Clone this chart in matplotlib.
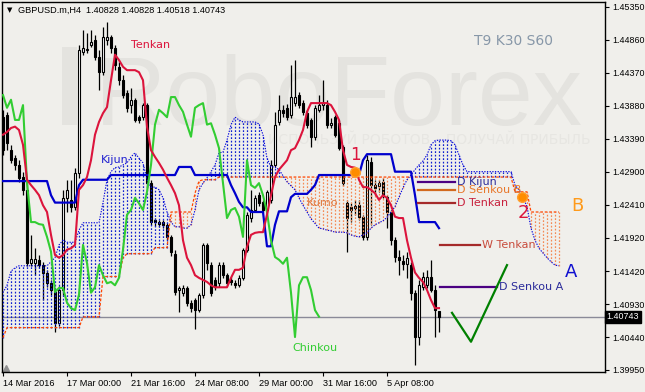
import numpy as np
import matplotlib.pyplot as plt
from matplotlib.patches import Rectangle

# GBPUSD H4 candles, bars 0..109
opens = [1.4371, 1.4374, 1.4322, 1.4310, 1.4300, 1.4282, 1.4263, 1.4154, 1.4154, 1.4159,
         1.4151, 1.4139, 1.4124, 1.4111, 1.4065, 1.4114, 1.4251, 1.4248, 1.4237, 1.4288,
         1.4468, 1.4471, 1.4479, 1.4486, 1.4461, 1.4438, 1.4486, 1.4490, 1.4474, 1.4446,
         1.4426, 1.4407, 1.4389, 1.4397, 1.4371, 1.4371, 1.4389, 1.4273, 1.4218, 1.4215,
         1.4215, 1.4211, 1.4193, 1.4168, 1.4114, 1.4110, 1.4117, 1.4095, 1.4099, 1.4084,
         1.4107, 1.4181, 1.4151, 1.4129, 1.4124, 1.4151, 1.4136, 1.4129, 1.4124, 1.4121,
         1.4132, 1.4174, 1.4221, 1.4233, 1.4255, 1.4245, 1.4233, 1.4248, 1.4300, 1.4364,
         1.4382, 1.4385, 1.4374, 1.4392, 1.4404, 1.4392, 1.4377, 1.4367, 1.4342, 1.4382,
         1.4389, 1.4389, 1.4360, 1.4371, 1.4362, 1.4327, 1.4243, 1.4237, 1.4239, 1.4240,
         1.4223, 1.4193, 1.4304, 1.4270, 1.4268, 1.4275, 1.4252, 1.4230, 1.4188, 1.4163,
         1.4157, 1.4153, 1.4151, 1.4110, 1.4044, 1.4118, 1.4121, 1.4133, 1.4114, 1.40828]
highs = [1.4382, 1.4379, 1.4330, 1.4315, 1.4307, 1.4290, 1.4273, 1.4196, 1.4176, 1.4166,
         1.4156, 1.4144, 1.4129, 1.4117, 1.4120, 1.4263, 1.4278, 1.4278, 1.4296, 1.4479,
         1.4501, 1.4496, 1.4501, 1.4493, 1.4471, 1.4505, 1.4513, 1.4493, 1.4479, 1.4453,
         1.4434, 1.4412, 1.4415, 1.4400, 1.4374, 1.4392, 1.4392, 1.4278, 1.4221, 1.4218,
         1.4218, 1.4214, 1.4196, 1.4174, 1.4120, 1.4121, 1.4120, 1.4099, 1.4102, 1.4110,
         1.4184, 1.4184, 1.4156, 1.4133, 1.4156, 1.4156, 1.4139, 1.4133, 1.4129, 1.4136,
         1.4176, 1.4230, 1.4263, 1.4255, 1.4260, 1.4248, 1.4263, 1.4307, 1.4379, 1.4404,
         1.4389, 1.4391, 1.4449, 1.4456, 1.4408, 1.4397, 1.4382, 1.4370, 1.4389, 1.4404,
         1.4426, 1.4397, 1.4370, 1.4374, 1.4367, 1.4330, 1.4248, 1.4243, 1.4248, 1.4248,
         1.4226, 1.4315, 1.4312, 1.4278, 1.4278, 1.4281, 1.4255, 1.4233, 1.4193, 1.4174,
         1.4166, 1.4171, 1.4156, 1.4114, 1.4129, 1.4141, 1.4144, 1.4159, 1.4121, 1.40828]
lows = [1.4315, 1.4322, 1.4303, 1.4293, 1.4275, 1.4255, 1.4150, 1.4150, 1.4136, 1.4147,
        1.4099, 1.4118, 1.4107, 1.4052, 1.4060, 1.4107, 1.4230, 1.4230, 1.4233, 1.4281,
        1.4464, 1.4467, 1.4476, 1.4456, 1.4412, 1.4434, 1.4479, 1.4467, 1.4441, 1.4419,
        1.4400, 1.4379, 1.4377, 1.4364, 1.4362, 1.4367, 1.4266, 1.4211, 1.4209, 1.4208,
        1.4206, 1.4188, 1.4165, 1.4107, 1.4081, 1.4105, 1.4090, 1.4081, 1.4056, 1.4081,
        1.4102, 1.4144, 1.4105, 1.4114, 1.4118, 1.4132, 1.4120, 1.4121, 1.4117, 1.4118,
        1.4129, 1.4171, 1.4215, 1.4230, 1.4239, 1.4230, 1.4230, 1.4243, 1.4297, 1.4360,
        1.4372, 1.4367, 1.4370, 1.4388, 1.4385, 1.4374, 1.4355, 1.4327, 1.4337, 1.4379,
        1.4382, 1.4355, 1.4355, 1.4342, 1.4322, 1.4269, 1.4171, 1.4215, 1.4226, 1.4218,
        1.4188, 1.4188, 1.4211, 1.4255, 1.4260, 1.4251, 1.4206, 1.4181, 1.4156, 1.4136,
        1.4144, 1.4132, 1.4099, 1.4002, 1.4032, 1.4114, 1.4117, 1.4111, 1.4044, 1.40518]
closes = [1.4322, 1.4333, 1.4307, 1.4300, 1.4281, 1.4263, 1.4154, 1.4160, 1.4160, 1.4151,
          1.4139, 1.4124, 1.4114, 1.4065, 1.4114, 1.4251, 1.4263, 1.4237, 1.4288, 1.4471,
          1.4474, 1.4472, 1.4483, 1.4461, 1.4438, 1.4490, 1.4490, 1.4474, 1.4449, 1.4426,
          1.4404, 1.4385, 1.4397, 1.4367, 1.4367, 1.4389, 1.4273, 1.4215, 1.4215, 1.4212,
          1.4211, 1.4193, 1.4171, 1.4111, 1.4117, 1.4117, 1.4095, 1.4087, 1.4084, 1.4107,
          1.4181, 1.4154, 1.4110, 1.4118, 1.4151, 1.4136, 1.4124, 1.4126, 1.4121, 1.4132,
          1.4174, 1.4226, 1.4233, 1.4251, 1.4243, 1.4233, 1.4260, 1.4300, 1.4360, 1.4382,
          1.4377, 1.4371, 1.4401, 1.4401, 1.4389, 1.4379, 1.4360, 1.4342, 1.4385, 1.4389,
          1.4392, 1.4360, 1.4362, 1.4345, 1.4325, 1.4273, 1.4221, 1.4233, 1.4236, 1.4223,
          1.4193, 1.4307, 1.4270, 1.4266, 1.4273, 1.4255, 1.4230, 1.4188, 1.4163, 1.4159,
          1.4153, 1.4162, 1.4110, 1.4044, 1.4121, 1.4133, 1.4133, 1.4114, 1.4084, 1.40743]

tenkan = [1.4345, 1.4349, 1.4355, 1.4357, 1.4352, 1.4330, 1.4278, 1.4270, 1.4263, 1.4255,
          1.4240, 1.4230, 1.4196, 1.4166, 1.4162, 1.4166, 1.4174, 1.4176, 1.4181, 1.4263,
          1.4270, 1.4282, 1.4307, 1.4345, 1.4364, 1.4377, 1.4386, 1.4426, 1.4464, 1.4456,
          1.4446, 1.4441, 1.4441, 1.4441, 1.4438, 1.4426, 1.4357, 1.4322, 1.4312, 1.4303,
          1.4293, 1.4281, 1.4270, 1.4258, 1.4240, 1.4188, 1.4162, 1.4151, 1.4136, 1.4132,
          1.4129, 1.4126, 1.4121, 1.4118, 1.4118, 1.4118, 1.4118, 1.4132, 1.4144, 1.4144,
          1.4147, 1.4178, 1.4196, 1.4199, 1.4200, 1.4200, 1.4226, 1.4255, 1.4282, 1.4293,
          1.4300, 1.4307, 1.4322, 1.4325, 1.4337, 1.4352, 1.4379, 1.4392, 1.4392, 1.4392,
          1.4392, 1.4392, 1.4389, 1.4379, 1.4367, 1.4322, 1.4300, 1.4297, 1.4296, 1.4278,
          1.4267, 1.4267, 1.4263, 1.4258, 1.4248, 1.4255, 1.4251, 1.4240, 1.4223, 1.4221,
          1.4221, 1.4188, 1.4162, 1.4140, 1.4132, 1.4126, 1.4114, 1.4099, 1.4087, 1.4087]

# Kijun and Senkou B are flat steps: level + number of bars
kijun_levels = [1.4276, 1.4255, 1.4244, 1.4270, 1.4278, 1.4285, 1.4297, 1.4285, 1.4270,
                1.4258, 1.4245, 1.4237, 1.4230, 1.4179, 1.4211, 1.4231, 1.4252, 1.4257,
                1.4263, 1.4270, 1.4285, 1.4307, 1.4316, 1.4290, 1.4255, 1.4215, 1.4206]
kijun_runs = [12, 1, 6, 1, 7, 17, 4, 9, 1, 1, 1, 2, 4, 2, 1, 3, 1, 4, 1, 1, 11, 1, 7, 5, 1, 5, 1]

# cloud, shifted 30 bars forward -> bars 0..139
senkou_a = [1.4110, 1.4121, 1.4142, 1.4147, 1.4150, 1.4150, 1.4150, 1.4150, 1.4150, 1.4150,
            1.4150, 1.4150, 1.4156, 1.4162, 1.4181, 1.4188, 1.4185, 1.4185, 1.4185, 1.4203,
            1.4214, 1.4214, 1.4214, 1.4214, 1.4214, 1.4244, 1.4278, 1.4290, 1.4296, 1.4297,
            1.4300, 1.4303, 1.4312, 1.4318, 1.4310, 1.4303, 1.4278, 1.4267, 1.4267, 1.4263,
            1.4251, 1.4230, 1.4215, 1.4208, 1.4208, 1.4206, 1.4206, 1.4211, 1.4233, 1.4263,
            1.4273, 1.4281, 1.4290, 1.4300, 1.4318, 1.4319, 1.4337, 1.4360, 1.4371, 1.4367,
            1.4364, 1.4364, 1.4364, 1.4364, 1.4361, 1.4345, 1.4310, 1.4297, 1.4297, 1.4293,
            1.4284, 1.4275, 1.4269, 1.4263, 1.4251, 1.4240, 1.4230, 1.4220, 1.4213, 1.4206,
            1.4205, 1.4203, 1.4202, 1.4200, 1.4200, 1.4200, 1.4199, 1.4196, 1.4194, 1.4193,
            1.4196, 1.4199, 1.4206, 1.4211, 1.4214, 1.4217, 1.4222, 1.4230, 1.4238, 1.4252,
            1.4266, 1.4278, 1.4285, 1.4293, 1.4300, 1.4306, 1.4315, 1.4330, 1.4336, 1.4337,
            1.4337, 1.4337, 1.4336, 1.4330, 1.4315, 1.4300, 1.4290, 1.4290, 1.4290, 1.4290,
            1.4290, 1.4290, 1.4290, 1.4290, 1.4290, 1.4290, 1.4290, 1.4290, 1.4270, 1.4263,
            1.4252, 1.4238, 1.4206, 1.4188, 1.4176, 1.4169, 1.4162, 1.4156, 1.4151, 1.4150]
senkou_b_levels = [1.4043, 1.4058, 1.4074, 1.4134, 1.4162, 1.4168, 1.4177, 1.4230, 1.4258,
                   1.4276, 1.4278, 1.4282, 1.4260, 1.4230]
senkou_b_runs = [1, 19, 5, 5, 1, 7, 4, 6, 1, 1, 4, 74, 4, 8]

# daily / weekly levels drawn on the right
level_names = ['D Kijun', 'D Senkou B', 'D Tenkan', 'W Tenkan', 'D Senkou A']
level_prices = [1.4275, 1.4263, 1.4244, 1.4181, 1.4119]
level_start = [103.75, 103.75, 103.75, 109.25, 109.25]
level_end = [113.0, 113.0, 113.0, 119.25, 123.5]
level_colors = ['#4B0082', '#D2691E', '#A52A2A', '#A52A2A', '#4B0082']
level_text_colors = ['#2B2B9A', '#E8772A', '#C8203C', '#C84B3C', '#2B2B9A']

# forecast path
path_bars = [112.25, 117.0, 126.0]
path_prices = [1.4080, 1.4037, 1.4151]

y_ticks = [1.45350, 1.44860, 1.44370, 1.43880, 1.43390, 1.42900, 1.42410,
           1.41920, 1.41420, 1.40930, 1.40440, 1.39950]
x_tick_bars = [0, 16, 32, 48, 64, 80, 96]
x_tick_labels = ['14 Mar 2016', '17 Mar 00:00', '21 Mar 16:00', '24 Mar 08:00',
                 '29 Mar 00:00', '31 Mar 16:00', '5 Apr 08:00']
last_price = 1.40743

bg = '#F0EFEB'
fig = plt.figure(figsize=(6.45, 3.92), dpi=100, facecolor=bg)
ax = fig.add_axes([2 / 645, 20 / 392, 603 / 645, 370 / 392], facecolor=bg)

n = len(closes)
xs = np.arange(n)
o = np.array(opens); c = np.array(closes)
h = np.array(highs); l = np.array(lows)

# watermark
ax.text(95 / 645, 1 - 125 / 392, 'RoboForex', transform=fig.transFigure,
        fontsize=71, color='#E4E3DF', family='Liberation Sans', va='baseline', zorder=0.2)
ax.add_patch(Rectangle((62 / 645, 1 - 125 / 392), 15 / 645, 78 / 392,
                       transform=fig.transFigure, color='#E4E3DF', zorder=0.2, lw=0))
ax.text(591 / 645, 1 - 140 / 392, 'ИСПОЛЬЗУЙ РОБОТОВ – ПОЛУЧАЙ ПРИБЫЛЬ',
        transform=fig.transFigure, fontsize=10, color='#E7E6E2', ha='right',
        va='center', family='DejaVu Sans', zorder=0.2)

# candles
ax.vlines(xs, l, h, colors='black', lw=0.9, zorder=2)
body_lo = np.minimum(o, c)
body_h = np.maximum(np.abs(c - o), 0.00004)
up = c > o
ax.bar(xs[up], body_h[up], bottom=body_lo[up], width=0.5, color='white',
       edgecolor='black', lw=0.8, zorder=2.1)
ax.bar(xs[~up], body_h[~up], bottom=body_lo[~up], width=0.5, color='black',
       edgecolor='black', lw=0.8, zorder=2.1)

# cloud
sa = np.array(senkou_a)
sb = np.repeat(senkou_b_levels, senkou_b_runs)
cx = np.arange(len(sa))
a_up = sa >= sb
ax.vlines(cx[a_up], sb[a_up], sa[a_up], colors='#1020D0', lw=0.9,
          linestyles=(0, (1.4, 1.4)), zorder=3)
ax.vlines(cx[~a_up], sa[~a_up], sb[~a_up], colors='#F48A55', lw=0.9,
          linestyles=(0, (1.4, 1.4)), zorder=3)
ax.plot(cx, sa, color='#0000DD', lw=0.8, ls=(0, (1.2, 1.2)), zorder=3.1)
ax.plot(cx, sb, color='#FF4500', lw=0.9, ls=(0, (2.2, 1.4)), zorder=3.1)

# ichimoku lines
kijun = np.repeat(kijun_levels, kijun_runs)
ax.plot(xs, kijun, color='#0000CD', lw=1.6, zorder=4)
ax.plot(xs, tenkan, color='#DC143C', lw=1.5, zorder=4.1)
ax.plot(xs[:n - 30], closes[30:], color='#32CD32', lw=1.5, zorder=4)

# current price line
ax.axhline(last_price, color='#8A8A98', lw=1, zorder=1.5)

# levels
for name, p, x0, x1, lc, tc in zip(level_names, level_prices, level_start, level_end,
                                    level_colors, level_text_colors):
    ax.plot([x0, x1], [p, p], color=lc, lw=1.6, zorder=5)
    ax.text(x1 + 0.4, p, name, color=tc, fontsize=8, va='center', ha='left',
            family='DejaVu Sans', zorder=6)

ax.plot(path_bars, path_prices, color='#008000', lw=1.6, zorder=5)
ax.plot([88, 129.75], [1.4290, 1.4252], 'o', color='#FF8C00', ms=7, mec='#FFA030', zorder=6)

# labels
ax.text(32, 1.4479, 'Tenkan', color='#DC143C', fontsize=8, va='center', zorder=6)
ax.text(24.5, 1.4308, 'Kijun', color='#2020D0', fontsize=8, va='center', zorder=6)
ax.text(72.25, 1.4028, 'Chinkou', color='#32CD32', fontsize=8, va='center', zorder=6)
ax.text(76, 1.4244, 'Kumo', color='#E07A40', fontsize=8, va='center', zorder=6)
ax.text(88, 1.4315, '1', color='#DC143C', fontsize=12, ha='center', va='center', zorder=6)
ax.text(130, 1.4228, '2', color='#DC143C', fontsize=13, ha='center', va='center', zorder=6)
ax.text(143.5, 1.4239, 'B', color='#FF9A1A', fontsize=13, ha='center', va='center', zorder=6)
ax.text(142, 1.4141, 'A', color='#1010D0', fontsize=13, ha='center', va='center', zorder=6)
ax.text(117.75, 1.4484, 'T9 K30 S60', color='#8797A8', fontsize=10, va='center', zorder=6)

# title
fig.text(7 / 645, 1 - 10 / 392, '▼', fontsize=5, va='center', family='DejaVu Sans')
fig.text(18 / 645, 1 - 10 / 392, 'GBPUSD.m,H4  1.40828 1.40828 1.40518 1.40743',
         fontsize=6.6, va='center', family='Liberation Sans')

# axes
ax.set_xlim(-0.25, 150.5)
ax.set_ylim(1.39920, 1.45424)
ax.yaxis.tick_right()
ax.set_yticks(y_ticks)
ax.set_yticklabels([f'{v:.5f}' for v in y_ticks], fontsize=6.4, family='Liberation Sans')
ax.set_xticks(x_tick_bars)
ax.set_xticklabels(x_tick_labels, fontsize=6.6, family='Liberation Sans', ha='left')
ax.tick_params(axis='y', length=3, width=0.8, pad=2)
ax.tick_params(axis='x', length=3, width=0.8, pad=2)
for s in ax.spines.values():
    s.set_linewidth(1)

ax.text(1.003, last_price, '1.40743', transform=ax.get_yaxis_transform(),
        fontsize=6.4, family='Liberation Sans', color='white', va='center', ha='left',
        bbox=dict(boxstyle='square,pad=0.15', fc='black', ec='black'), zorder=7, clip_on=False)
ax.plot([0.006], [0.012], marker='^', color='#909090', ms=4, transform=ax.transAxes)

fig.savefig('out.png', dpi=100, facecolor=bg)
